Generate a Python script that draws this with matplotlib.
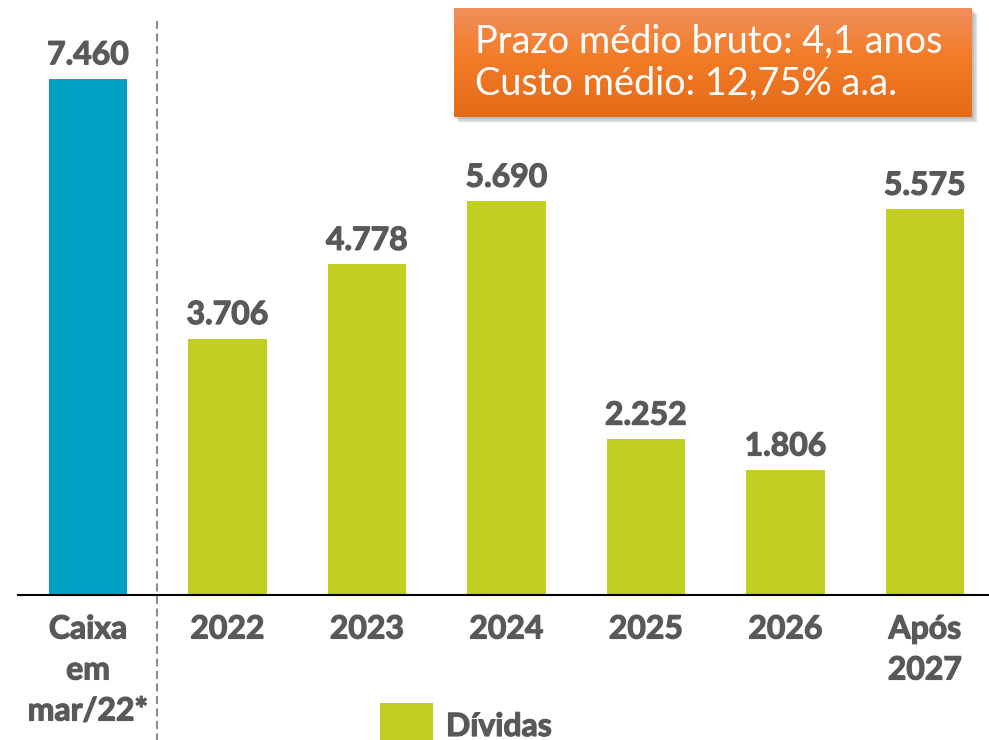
import numpy as np
import matplotlib
matplotlib.use("Agg")
import matplotlib.pyplot as plt
import matplotlib.patheffects as pe
from matplotlib.patches import Rectangle
from matplotlib.lines import Line2D

categories = ["Caixa\nem\nmar/22*", "2022", "2023", "2024", "2025", "2026", "Após\n2027"]
values = [7460, 3706, 4778, 5690, 2252, 1806, 5575]
value_labels = ["7.460", "3.706", "4.778", "5.690", "2.252", "1.806", "5.575"]
legend_label = "Dívidas"
box_lines = ["Prazo médio bruto: 4,1 anos", "Custo médio: 12,75% a.a."]

BLUE = "#00A0C4"
GREEN = "#C2CF22"
GREY = "#595959"
FONT = "Lato"
WEIGHT = "bold"
THICK = [pe.withStroke(linewidth=0.9, foreground=GREY)]

W, H = 989, 740
fig = plt.figure(figsize=(W / 100, H / 100), dpi=100)
fig.patch.set_facecolor("white")

def fx(px):
    return px / W

def fy(py):
    return 1 - py / H

ax = fig.add_axes([fx(18), fy(595), fx(989 - 18), 595 / H])
ax.patch.set_visible(False)
x = np.arange(len(categories))
colors = [BLUE] + [GREEN] * (len(categories) - 1)
ax.bar(x, values, width=0.56, color=colors, zorder=2)
ax.set_xlim(-0.502, 6.459)
ax.set_ylim(0, 8600)
for s in ["top", "left", "right"]:
    ax.spines[s].set_visible(False)
ax.spines["bottom"].set_color("black")
ax.spines["bottom"].set_linewidth(1.5)
ax.set_yticks([])
ax.set_xticks(x)
ax.set_xticklabels(categories, fontsize=23, fontweight=WEIGHT, color=GREY,
                   family=FONT, linespacing=1.5, path_effects=THICK)
ax.tick_params(axis="x", length=0, pad=14)

for xi, v, lab in zip(x, values, value_labels):
    ax.annotate(lab, (xi, v), xytext=(0, 10.5), textcoords="offset points",
                ha="center", va="baseline", fontsize=23, fontweight=WEIGHT,
                color=GREY, family=FONT, path_effects=THICK)

# dashed separator
fig.add_artist(Line2D([fx(157), fx(157)], [fy(21), fy(745)], color="#8C8C8C",
                      lw=1.5, dashes=(3.8, 2.2)))

# legend
fig.add_artist(Rectangle((fx(380), fy(742)), fx(433 - 380), (742 - 703) / H,
                         transform=fig.transFigure, color=GREEN, lw=0))
fig.text(fx(446), fy(736), legend_label, fontsize=23, fontweight=WEIGHT, color=GREY,
         family=FONT, va="baseline", ha="left", path_effects=THICK)

# orange box with shadow and gradient
bx0, by0, bx1, by1 = 454, 8, 972, 117
for i, a in enumerate([0.04, 0.06, 0.08, 0.10]):
    off = 6 - i * 1.2
    fig.add_artist(Rectangle((fx(bx0 + off - 1), fy(by1 + off)), fx(bx1 - bx0 + 1),
                             (by1 - by0) / H, transform=fig.transFigure,
                             color="black", alpha=a, lw=0, zorder=1))
gax = fig.add_axes([fx(bx0), fy(by1), fx(bx1 - bx0), (by1 - by0) / H], zorder=5)
gax.set_axis_off()
t = np.linspace(0, 1, 200)[:, None]
top = np.array([241, 143, 92]) / 255
mid = np.array([243, 124, 40]) / 255
bot = np.array([228, 106, 24]) / 255
grad = np.where(t < 0.45, top + (mid - top) * (t / 0.45),
                mid + (bot - mid) * ((t - 0.45) / 0.55))
img = np.repeat(grad[:, None, :], 2, axis=1)
gax.imshow(img, aspect="auto", extent=[0, 1, 0, 1], origin="upper",
           interpolation="bilinear")

fig.text(fx(475), fy(53), box_lines[0], fontsize=27.3, color="white", family=FONT,
         va="baseline", ha="left", zorder=10)
fig.text(fx(475), fy(95), box_lines[1], fontsize=27.3, color="white", family=FONT,
         va="baseline", ha="left", zorder=10)

fig.savefig("out.png", dpi=100, facecolor="white")
